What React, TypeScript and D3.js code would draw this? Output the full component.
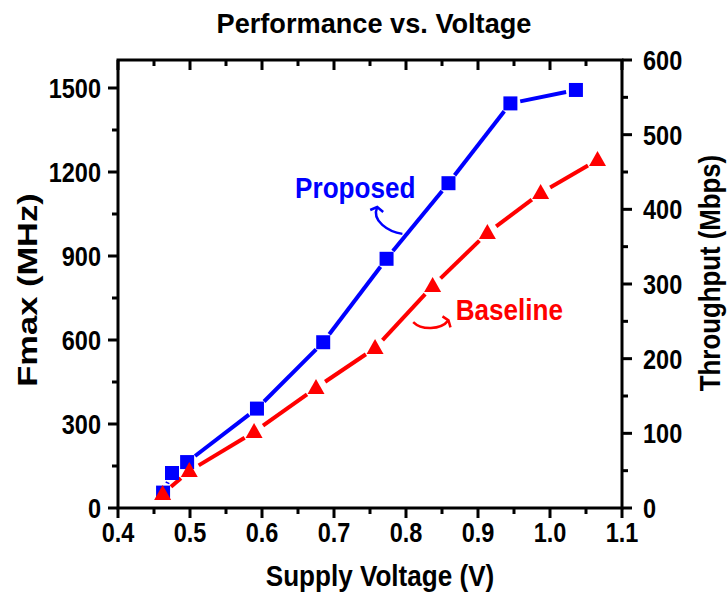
import React from 'react';
import * as d3 from 'd3';

const voltageProposed = [0.4626, 0.475, 0.496, 0.593, 0.685, 0.773, 0.859, 0.945, 1.036];
const fmaxProposed = [55, 125, 164, 355, 592, 890, 1160, 1445, 1493];
const voltageBaseline = [0.462, 0.499, 0.589, 0.675, 0.757, 0.837, 0.913, 0.987, 1.066];
const fmaxBaseline = [50, 132, 271, 429, 571, 793, 982, 1125, 1243];
const xTicks = [0.4, 0.5, 0.6, 0.7, 0.8, 0.9, 1.0, 1.1];
const xMinorTicks = [0.45, 0.55, 0.65, 0.75, 0.85, 0.95, 1.05];
const leftTicks = [0, 300, 600, 900, 1200, 1500];
const leftMinorTicks = [150, 450, 750, 1050, 1350];
const rightTicks = [0, 100, 200, 300, 400, 500, 600];
const rightMinorTicks = [50, 150, 250, 350, 450, 550];

const W = 727, H = 597;
const M = { left: 118, right: 622, top: 60, bottom: 508 };
const FONT = "'Liberation Sans', Arial, sans-serif";
const BLUE = '#0000ff';
const RED = '#ff0000';

const x = d3.scaleLinear().domain([0.4, 1.1]).range([M.left, M.right]);
const yL = d3.scaleLinear().domain([0, 1600]).range([M.bottom, M.top]);
const yR = d3.scaleLinear().domain([0, 600]).range([M.bottom, M.top]);

function gappedSegments(xs: number[], ys: number[], gap: number) {
  const segs: string[] = [];
  for (let i = 0; i < xs.length - 1; i++) {
    const x1 = x(xs[i]), y1 = yL(ys[i]), x2 = x(xs[i + 1]), y2 = yL(ys[i + 1]);
    const dx = x2 - x1, dy = y2 - y1;
    const len = Math.hypot(dx, dy);
    if (len <= 2 * gap) continue;
    const ux = dx / len, uy = dy / len;
    const p = d3.path();
    p.moveTo(x1 + ux * gap, y1 + uy * gap);
    p.lineTo(x2 - ux * gap, y2 - uy * gap);
    segs.push(p.toString());
  }
  return segs;
}

type TProps = {
  x: number; y: number; size: number; sx?: number; sy?: number; rotate?: number;
  anchor?: 'start' | 'middle' | 'end'; fill?: string; children: React.ReactNode;
};
function T({ x: tx, y: ty, size, sx = 1, sy = 1, rotate = 0, anchor = 'start', fill = '#000', children }: TProps) {
  return (
    <text
      transform={`translate(${tx},${ty}) rotate(${rotate}) scale(${sx},${sy})`}
      textAnchor={anchor}
      style={{ fontFamily: FONT, fontWeight: 700, fontSize: size, fill }}
    >
      {children}
    </text>
  );
}

export default function App() {
  const blueSegs = gappedSegments(voltageProposed, fmaxProposed, 10);
  const redSegs = gappedSegments(voltageBaseline, fmaxBaseline, 11);

  const propText = { x: x(0.646), y: yL(1107) };
  const baseText = { x: x(0.869), y: yL(671) };

  const pa = d3.path();
  const ps = { x: x(0.795), y: yL(979) };
  const pe = { x: x(0.760), y: yL(1075) };
  pa.moveTo(ps.x, ps.y);
  pa.bezierCurveTo(ps.x - 14, ps.y - 2, pe.x - 6, pe.y + 14, pe.x, pe.y);
  const ph = d3.path();
  ph.moveTo(pe.x - 7, pe.y + 3);
  ph.lineTo(pe.x, pe.y);
  ph.lineTo(pe.x + 6, pe.y + 5);

  const ba = d3.path();
  const bs = { x: x(0.810), y: yL(664) };
  const be = { x: x(0.859), y: yL(670) };
  ba.moveTo(bs.x, bs.y);
  ba.bezierCurveTo(bs.x + 8, bs.y + 8, be.x - 8, be.y + 10, be.x, be.y);
  const bh = d3.path();
  bh.moveTo(be.x - 6, be.y - 4);
  bh.lineTo(be.x, be.y);
  bh.lineTo(be.x + 2, be.y + 7);

  const tickStyle = { stroke: '#000', strokeWidth: 3 };
  const TS = 28, TSX = 0.84;

  return (
    <svg width={W} height={H} style={{ position: 'absolute', left: 0, top: 0, background: '#fff' }}>
      <rect width={W} height={H} fill="#fff" />
      <T x={(M.left + M.right) / 2 + 4} y={33} size={28} sx={0.97} anchor="middle">Performance vs. Voltage</T>

      {xTicks.map(t => (
        <line key={'xb' + t} x1={x(t)} x2={x(t)} y1={M.bottom} y2={M.bottom + 10} {...tickStyle} />
      ))}
      {xMinorTicks.map(t => (
        <line key={'xbm' + t} x1={x(t)} x2={x(t)} y1={M.bottom} y2={M.bottom + 6} {...tickStyle} />
      ))}
      {xTicks.map(t => (
        <line key={'xt' + t} x1={x(t)} x2={x(t)} y1={M.top} y2={M.top + 10} {...tickStyle} />
      ))}
      {xMinorTicks.map(t => (
        <line key={'xtm' + t} x1={x(t)} x2={x(t)} y1={M.top} y2={M.top + 6} {...tickStyle} />
      ))}
      {xTicks.map(t => (
        <T key={'xl' + t} x={x(t)} y={542} size={TS} sx={TSX} anchor="middle">{d3.format('.1f')(t)}</T>
      ))}

      {leftTicks.map(t => (
        <line key={'yl' + t} x1={M.left - 10} x2={M.left} y1={yL(t)} y2={yL(t)} {...tickStyle} />
      ))}
      {leftMinorTicks.map(t => (
        <line key={'ylm' + t} x1={M.left - 6} x2={M.left} y1={yL(t)} y2={yL(t)} {...tickStyle} />
      ))}
      {leftTicks.map(t => (
        <T key={'yll' + t} x={101} y={yL(t) + 10} size={TS} sx={TSX} anchor="end">{t}</T>
      ))}

      {rightTicks.map(t => (
        <line key={'yr' + t} x1={M.right} x2={M.right + 10} y1={yR(t)} y2={yR(t)} {...tickStyle} />
      ))}
      {rightMinorTicks.map(t => (
        <line key={'yrm' + t} x1={M.right} x2={M.right + 6} y1={yR(t)} y2={yR(t)} {...tickStyle} />
      ))}
      {rightTicks.map(t => (
        <T key={'yrl' + t} x={643} y={yR(t) + 10} size={TS} sx={TSX} anchor="start">{t}</T>
      ))}

      <rect x={M.left} y={M.top} width={M.right - M.left} height={M.bottom - M.top} fill="none" stroke="#000" strokeWidth={3} />

      <T x={(M.left + M.right) / 2 + 10} y={586} size={29} sx={0.9} anchor="middle">Supply Voltage (V)</T>
      <T x={37} y={(M.top + M.bottom) / 2 + 6} size={30} sx={1.15} sy={0.92} rotate={-90} anchor="middle">Fmax (MHz)</T>
      <T x={720} y={(M.top + M.bottom) / 2 - 11} size={30} sx={0.86} rotate={-90} anchor="middle">Throughput (Mbps)</T>

      {blueSegs.map((d, i) => (
        <path key={'bs' + i} d={d} stroke={BLUE} strokeWidth={4} fill="none" />
      ))}
      {redSegs.map((d, i) => (
        <path key={'rs' + i} d={d} stroke={RED} strokeWidth={4} fill="none" />
      ))}

      {voltageProposed.map((v, i) => (
        <rect key={'bm' + i} x={x(v) - 7} y={yL(fmaxProposed[i]) - 7} width={14} height={14} fill={BLUE} />
      ))}
      {voltageBaseline.map((v, i) => {
        const cx = x(v), cy = yL(fmaxBaseline[i]);
        return (
          <polygon key={'rm' + i} points={`${cx},${cy - 9} ${cx - 8.5},${cy + 6} ${cx + 8.5},${cy + 6}`} fill={RED} />
        );
      })}

      <T x={propText.x} y={propText.y} size={30} sx={0.87} fill={BLUE}>Proposed</T>
      <path d={pa.toString()} stroke={BLUE} strokeWidth={2.5} fill="none" />
      <path d={ph.toString()} stroke={BLUE} strokeWidth={2.5} fill="none" />

      <T x={baseText.x} y={baseText.y} size={30} sx={0.87} fill={RED}>Baseline</T>
      <path d={ba.toString()} stroke={RED} strokeWidth={2.5} fill="none" />
      <path d={bh.toString()} stroke={RED} strokeWidth={2.5} fill="none" />
    </svg>
  );
}
